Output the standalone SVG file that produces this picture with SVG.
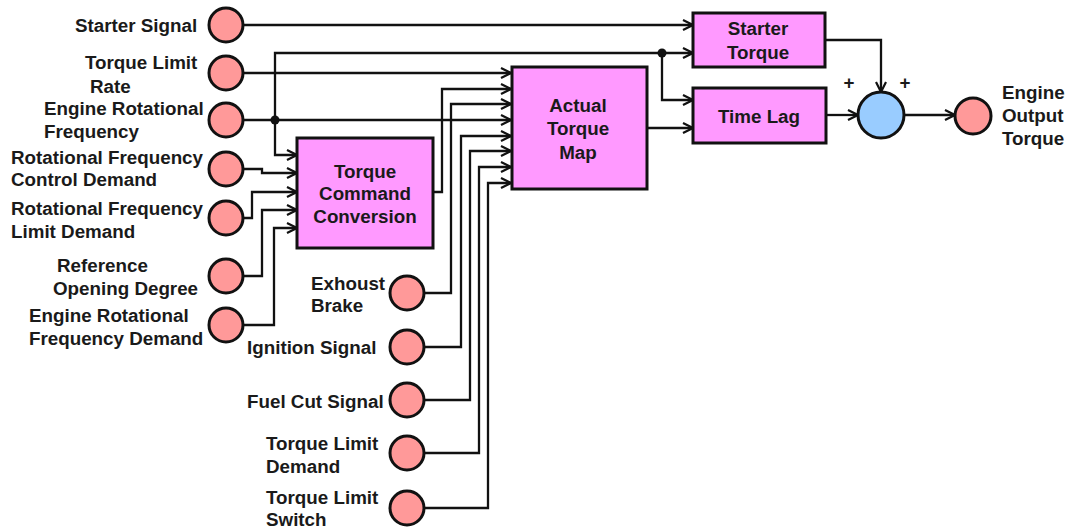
<svg xmlns="http://www.w3.org/2000/svg" width="1069" height="530" viewBox="0 0 1069 530">
<defs>
<style>
.lbl{font-family:"Liberation Sans",Arial,sans-serif;font-weight:bold;font-size:18.8px;fill:#1a1a1a}
.box{fill:#FF99FF;stroke:#111;stroke-width:3}
.io{fill:#FF9999;stroke:#111;stroke-width:3}
.sum{fill:#99CCFF;stroke:#111;stroke-width:3}
.c{fill:none;stroke:#111;stroke-width:2.3}
.mid{text-anchor:middle}
</style>
<marker id="a" viewBox="0 0 12 12" markerUnits="userSpaceOnUse" markerWidth="12" markerHeight="12" refX="11" refY="6" orient="auto">
<path d="M1,1 L11,6 L1,11" fill="none" stroke="#111" stroke-width="2.2"/>
</marker>
</defs>
<g id="connectors">
<path class="c" d="M244,25 H693" marker-end="url(#a)"/>
<path class="c" d="M244,73 H511" marker-end="url(#a)"/>
<path class="c" d="M244,120 H511" marker-end="url(#a)"/>
<path class="c" d="M275,120 V53 H693" marker-end="url(#a)"/>
<path class="c" d="M662,53 V100 H693" marker-end="url(#a)"/>
<path class="c" d="M275,120 V155 H297" marker-end="url(#a)"/>
<path class="c" d="M244,169 H262 V173 H297" marker-end="url(#a)"/>
<path class="c" d="M244,218 H252 V192 H297" marker-end="url(#a)"/>
<path class="c" d="M244,276 H262 V210 H297" marker-end="url(#a)"/>
<path class="c" d="M244,325 H274 V228 H297" marker-end="url(#a)"/>
<path class="c" d="M433,192 H442 V89 H511" marker-end="url(#a)"/>
<path class="c" d="M425,293 H451 V104 H511" marker-end="url(#a)"/>
<path class="c" d="M425,347 H461 V136 H511" marker-end="url(#a)"/>
<path class="c" d="M425,400 H470 V151 H511" marker-end="url(#a)"/>
<path class="c" d="M425,453 H479 V167 H511" marker-end="url(#a)"/>
<path class="c" d="M425,508 H488 V183 H511" marker-end="url(#a)"/>
<path class="c" d="M647,128 H693" marker-end="url(#a)"/>
<path class="c" d="M825,40 H881 V92" marker-end="url(#a)"/>
<path class="c" d="M826,115 H858" marker-end="url(#a)"/>
<path class="c" d="M904,115 H955" marker-end="url(#a)"/>
<circle cx="275" cy="120" r="4.5" fill="#111"/>
<circle cx="662" cy="53" r="4.5" fill="#111"/>
</g>
<g id="starter-signal"><circle class="io" cx="226" cy="25" r="17"/><text class="lbl" x="75" y="32">Starter Signal</text></g>
<g id="torque-limit-rate"><circle class="io" cx="226" cy="73" r="17"/><text class="lbl" x="85" y="69">Torque Limit</text><text class="lbl" x="90" y="93">Rate</text></g>
<g id="engine-rot-freq"><circle class="io" cx="226" cy="120" r="17"/><text class="lbl" x="44" y="115">Engine Rotational</text><text class="lbl" x="44" y="138">Frequency</text></g>
<g id="rf-control-demand"><circle class="io" cx="226" cy="169" r="17"/><text class="lbl" x="11" y="164">Rotational Frequency</text><text class="lbl" x="11" y="186">Control Demand</text></g>
<g id="rf-limit-demand"><circle class="io" cx="226" cy="218" r="17"/><text class="lbl" x="11" y="215">Rotational Frequency</text><text class="lbl" x="11" y="238">Limit Demand</text></g>
<g id="ref-opening-degree"><circle class="io" cx="226" cy="276" r="17"/><text class="lbl" x="57" y="272">Reference</text><text class="lbl" x="53" y="295">Opening Degree</text></g>
<g id="engine-rot-freq-demand"><circle class="io" cx="226" cy="325" r="17"/><text class="lbl" x="29" y="322">Engine Rotational</text><text class="lbl" x="29" y="345">Frequency Demand</text></g>
<g id="exhoust-brake"><circle class="io" cx="407" cy="293" r="17"/><text class="lbl" x="311" y="290">Exhoust</text><text class="lbl" x="311" y="312">Brake</text></g>
<g id="ignition-signal"><circle class="io" cx="407" cy="347" r="17"/><text class="lbl" x="247" y="354">Ignition Signal</text></g>
<g id="fuel-cut-signal"><circle class="io" cx="407" cy="400" r="17"/><text class="lbl" x="247" y="408">Fuel Cut Signal</text></g>
<g id="torque-limit-demand"><circle class="io" cx="407" cy="453" r="17"/><text class="lbl" x="266" y="450">Torque Limit</text><text class="lbl" x="266" y="473">Demand</text></g>
<g id="torque-limit-switch"><circle class="io" cx="407" cy="508" r="17"/><text class="lbl" x="266" y="504">Torque Limit</text><text class="lbl" x="266" y="526">Switch</text></g>
<g id="torque-command-conversion"><rect class="box" x="297" y="138" width="136" height="110"/><text class="lbl mid" x="365" y="178">Torque</text><text class="lbl mid" x="365" y="200">Command</text><text class="lbl mid" x="365" y="223">Conversion</text></g>
<g id="actual-torque-map"><rect class="box" x="512" y="67" width="135" height="122"/><text class="lbl mid" x="578" y="112">Actual</text><text class="lbl mid" x="578" y="135">Torque</text><text class="lbl mid" x="578" y="159">Map</text></g>
<g id="starter-torque"><rect class="box" x="693" y="13" width="132" height="54"/><text class="lbl mid" x="758" y="35">Starter</text><text class="lbl mid" x="758" y="59">Torque</text></g>
<g id="time-lag"><rect class="box" x="693" y="88" width="133" height="55"/><text class="lbl mid" x="759" y="123">Time Lag</text></g>
<g id="sum"><circle class="sum" cx="881" cy="115" r="23"/><text class="lbl mid" x="849" y="89">+</text><text class="lbl mid" x="905" y="89">+</text></g>
<g id="engine-output-torque"><circle class="io" cx="973" cy="116" r="18"/><text class="lbl" x="1002" y="99">Engine</text><text class="lbl" x="1002" y="122">Output</text><text class="lbl" x="1002" y="145">Torque</text></g>
</svg>
